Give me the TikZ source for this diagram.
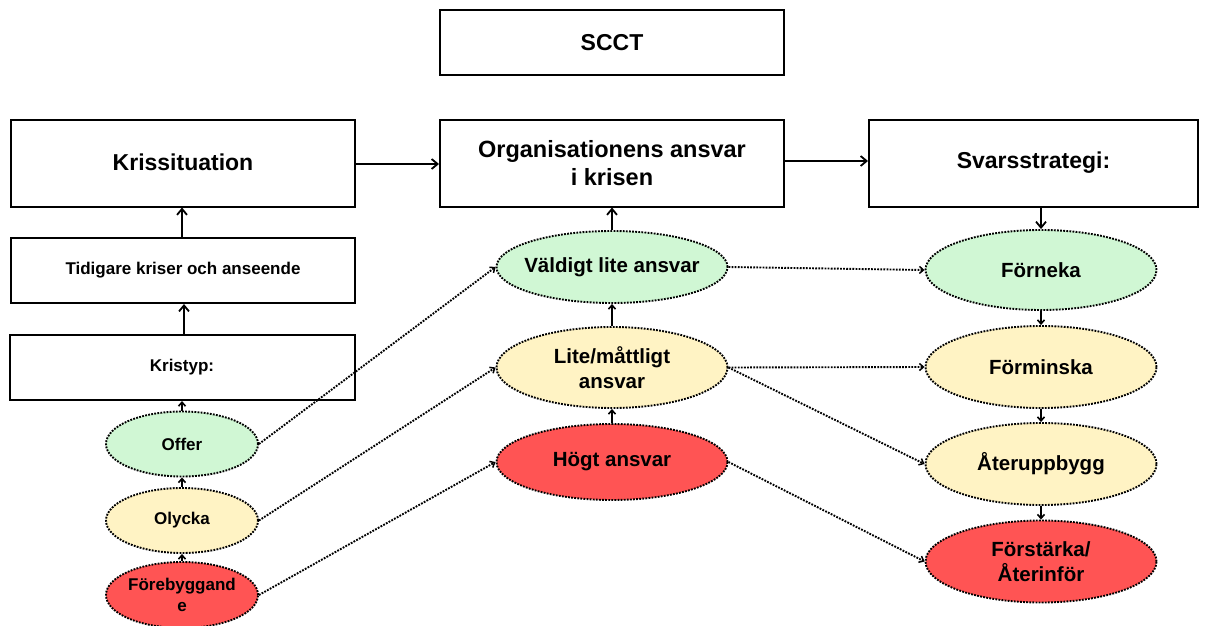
\documentclass[tikz,border=0pt]{standalone}
\usepackage{fontspec}
\setmainfont{Liberation Sans}
\usetikzlibrary{arrows.meta,shapes.geometric}
\definecolor{cgreen}{RGB}{208,247,212}
\definecolor{cyellow}{RGB}{255,243,196}
\definecolor{cred}{RGB}{255,84,84}
\tikzset{
  box/.style={draw=black, line width=2pt, rectangle, minimum height=#1, inner sep=0pt, font=\bfseries},
  ell/.style={draw=black, ellipse, line width=1.9pt, dash pattern=on 1.8pt off 1.3pt, inner xsep=-8pt, inner ysep=0pt, font=\bfseries\fontsize{20.5}{25}\selectfont, align=center},
  sell/.style={draw=black, ellipse, line width=1.9pt, dash pattern=on 1.8pt off 1.3pt, inner xsep=-4pt, inner ysep=0pt, font=\bfseries\fontsize{17}{21}\selectfont, align=center, minimum width=152pt, minimum height=65pt},
  arr/.style={line width=2pt, -{Straight Barb[length=6pt,width=10pt,line width=1.8pt]}},
  sarr/.style={line width=1.8pt, -{Straight Barb[length=4pt,width=7pt,line width=1.6pt]}},
  darr/.style={line width=1.9pt, dash pattern=on 1.8pt off 1.3pt, -{Straight Barb[length=4pt,width=7pt,line width=1.5pt]}},
}
\begin{document}
\begin{tikzpicture}[x=1pt,y=-1pt]
\useasboundingbox (0,0) rectangle (1210,626);
% top
\node[box=65pt, minimum width=344pt, font=\bfseries\fontsize{23}{28}\selectfont] (scct) at (612,43) {SCCT};
\node[box=87pt, minimum width=344pt, font=\bfseries\fontsize{23}{28}\selectfont] (kris) at (183,163) {\raisebox{2pt}{Krissituation}};
\node[box=87pt, minimum width=344pt, font=\bfseries\fontsize{23.5}{28}\selectfont, align=center] (org) at (612,163) {Organisationens ansvar\\i krisen};
\node[box=87pt, minimum width=329pt, font=\bfseries\fontsize{23}{28}\selectfont] (svar) at (1033.5,163) {\raisebox{2pt}{Svarsstrategi:}};
% left column
\node[box=65pt, minimum width=344pt, font=\bfseries\fontsize{17}{21}\selectfont] (tid) at (183,270.5) {Tidigare kriser och anseende};
\node[box=65pt, minimum width=345pt, font=\bfseries\fontsize{17}{21}\selectfont] (typ) at (182,367.5) {Kristyp:};
\node[sell, fill=cgreen] (offer) at (182,444) {Offer};
\node[sell, fill=cyellow] (olycka) at (182,520.5) {Olycka};
\node[sell, fill=cred, minimum height=66pt] (fore) at (182,595) {Förebyggand\\e};
% center column
\node[ell, fill=cgreen, minimum width=231pt, minimum height=72pt] (valdigt) at (612,267) {Väldigt lite ansvar};
\node[ell, fill=cyellow, minimum width=231pt, minimum height=81pt] (lite) at (612,367.5) {Lite/måttligt\\ansvar};
\node[ell, fill=cred, minimum width=231pt, minimum height=76pt] (hogt) at (612,462) {Högt ansvar};
% right column
\node[ell, fill=cgreen, minimum width=231pt, minimum height=80pt] (forneka) at (1041,270) {Förneka};
\node[ell, fill=cyellow, minimum width=231pt, minimum height=82pt] (forminska) at (1041,367) {Förminska};
\node[ell, fill=cyellow, minimum width=231pt, minimum height=82pt] (ater) at (1041,464) {Återuppbygg};
\node[ell, fill=cred, minimum width=231pt, minimum height=82pt] (forst) at (1041,561.5) {Förstärka/\\Återinför};
% solid arrows
\draw[arr] (kris.east |- 0,164) -- (org.west |- 0,164);
\draw[arr] (org.east |- 0,161) -- (svar.west |- 0,161);
\draw[arr] (tid.north -| 182,0) -- (kris.south -| 182,0);
\draw[arr] (typ.north -| 184,0) -- (tid.south -| 184,0);
\draw[sarr] (offer) -- (typ.south -| offer);
\draw[sarr] (olycka) -- (offer);
\draw[sarr] (fore) -- (olycka);
\draw[arr] (valdigt) -- (org);
\draw[sarr] (lite) -- (valdigt);
\draw[sarr] (hogt) -- (lite);
\draw[arr] (svar.south -| forneka) -- (forneka);
\draw[sarr] (forneka) -- (forminska);
\draw[sarr] (forminska) -- (ater);
\draw[sarr] (ater) -- (forst);
% dotted arrows
\draw[darr] (offer.east) -- (valdigt.west);
\draw[darr] (olycka.east) -- (lite.west);
\draw[darr] (fore.east) -- (hogt.west);
\draw[darr] (valdigt.east) -- (forneka.west);
\draw[darr] (lite.east) -- (forminska.west);
\draw[darr] (lite.east) -- (ater.west);
\draw[darr] (hogt.east) -- (forst.west);
\end{tikzpicture}
\end{document}
